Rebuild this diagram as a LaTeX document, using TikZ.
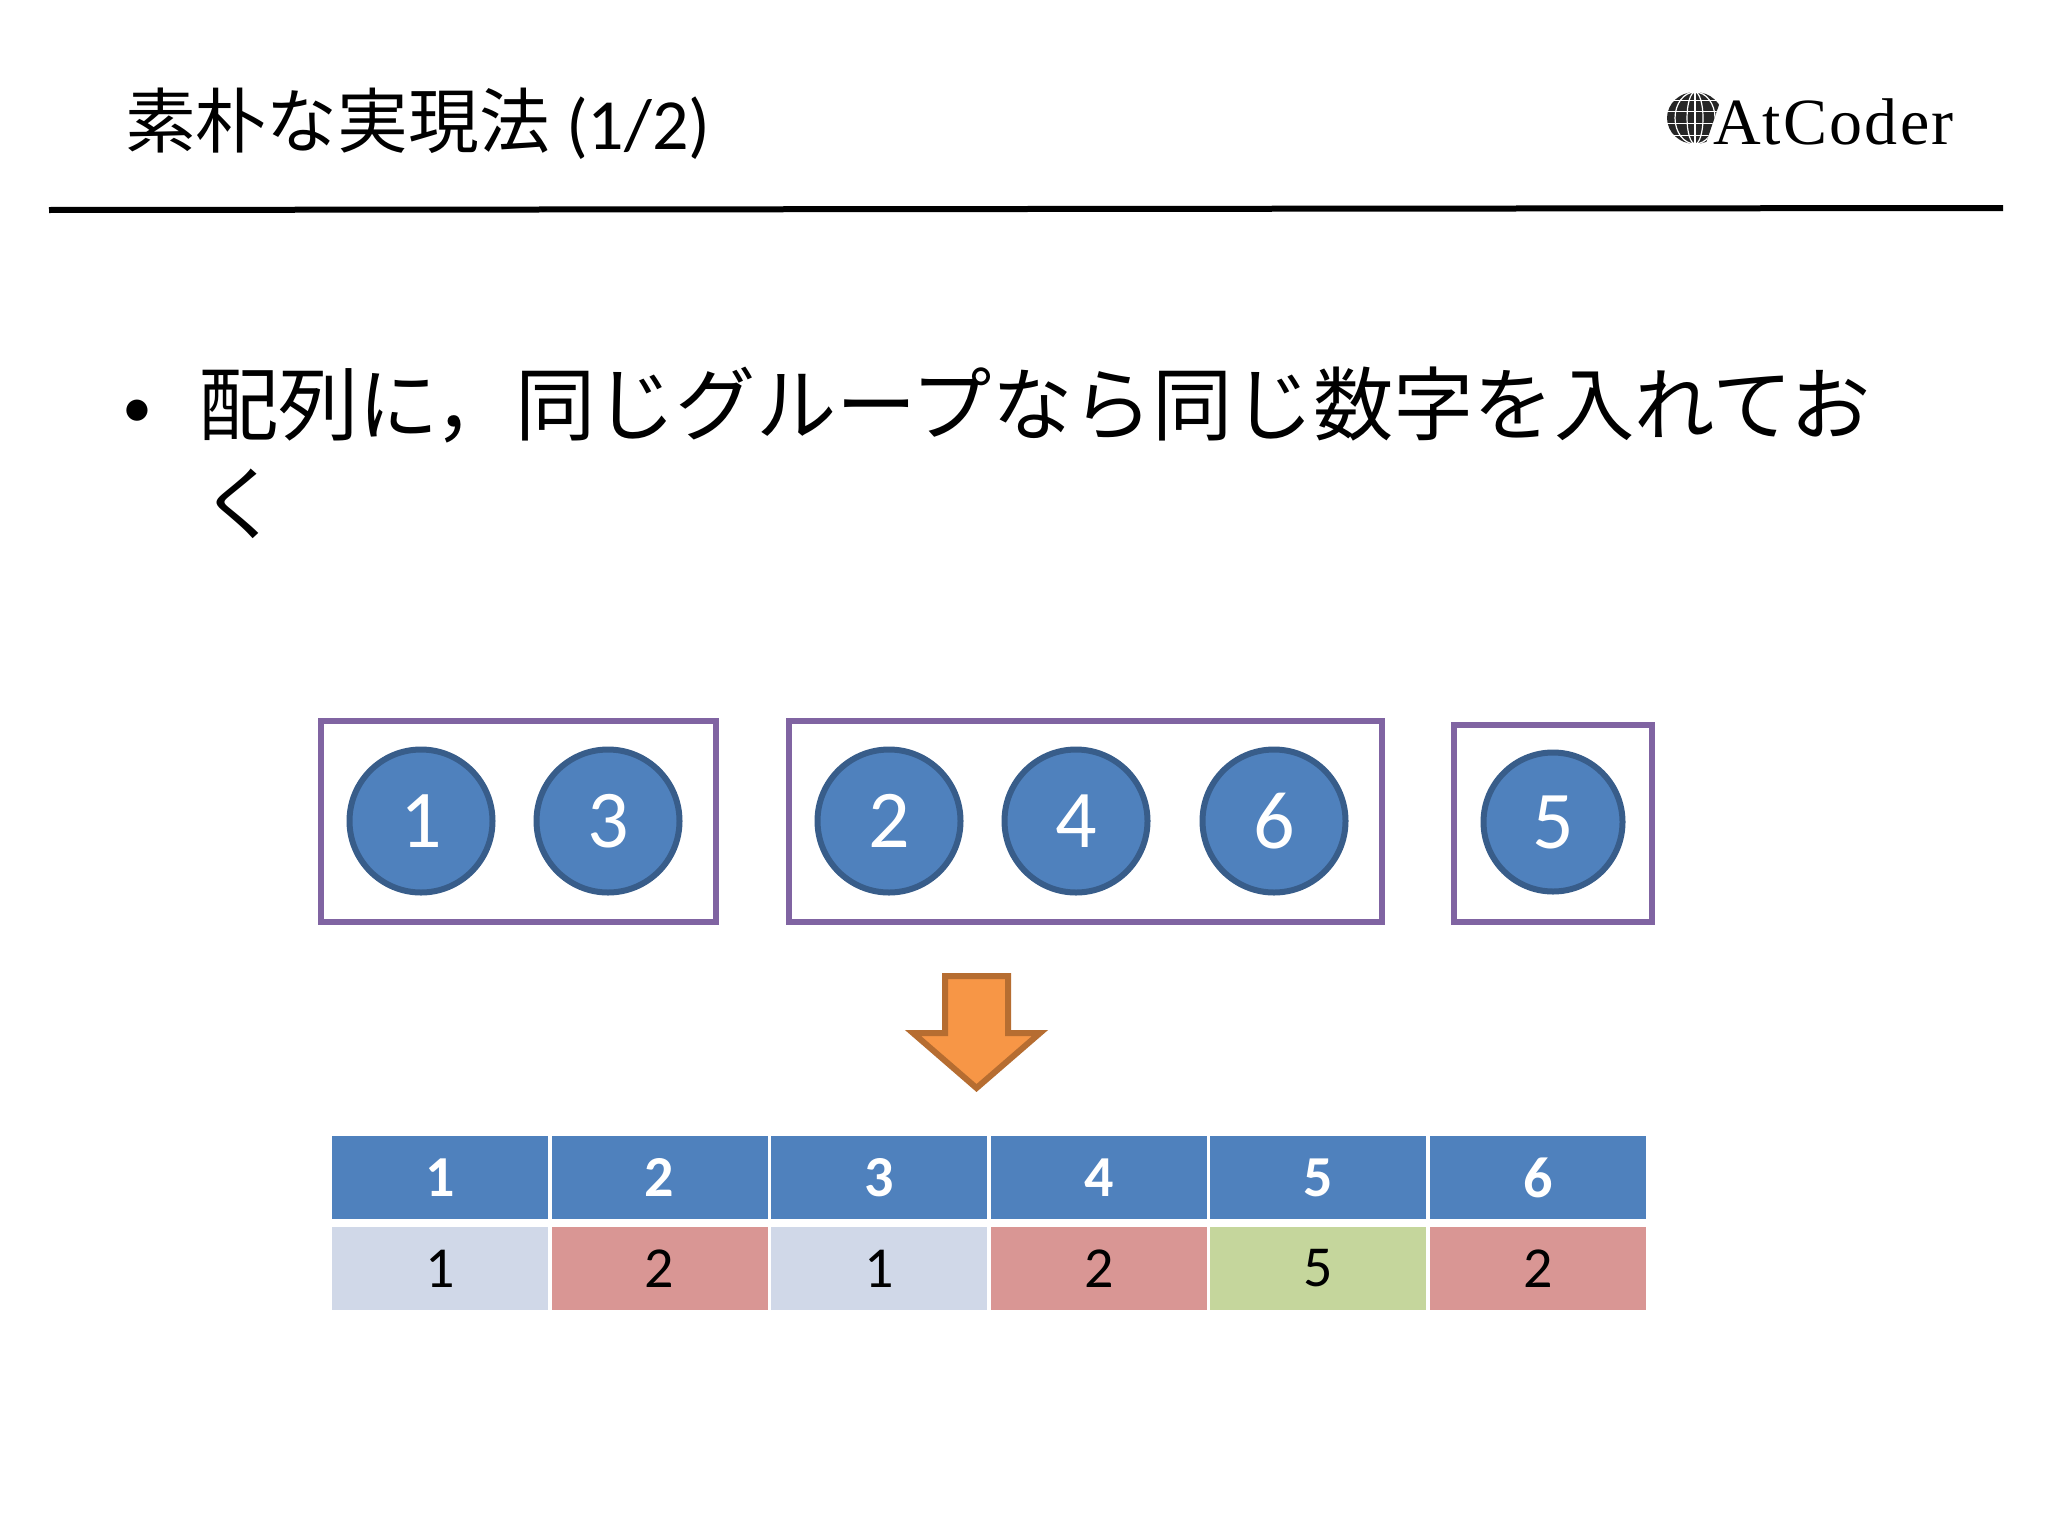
\documentclass[tikz,border=0pt]{standalone}
\usepackage{fontspec}
\setmainfont{Carlito}
\newfontfamily\jp{Noto Sans CJK JP}
\newfontfamily\logofont[LetterSpace=3.4]{Liberation Serif}
\definecolor{hdr}{HTML}{4F81BD}
\definecolor{hdrline}{HTML}{385D8A}
\definecolor{groupline}{HTML}{8064A2}
\definecolor{cellblue}{HTML}{D0D8E8}
\definecolor{cellred}{HTML}{D99694}
\definecolor{cellgreen}{HTML}{C5D69C}
\definecolor{arrowfill}{HTML}{F79646}
\definecolor{arrowline}{HTML}{B66D31}
\tikzset{
  txt/.style={inner sep=0pt,outer sep=0pt,anchor=base west,text=black},
  ball/.style={circle,draw=hdrline,fill=hdr,line width=3pt,minimum size=71.5pt,inner sep=0pt,text=white,font=\fontsize{41}{41}\selectfont},
  groupbox/.style={draw=groupline,line width=3pt,inner sep=0pt,anchor=north west},
  headcell/.style={fill=hdr,minimum width=108pt,minimum height=41.5pt,inner sep=0pt,text=white,font=\fontsize{29}{29}\selectfont\bfseries},
  valcell/.style={minimum width=108pt,minimum height=41.5pt,inner sep=0pt,text=black,font=\fontsize{29}{29}\selectfont},
}
\begin{document}
\begin{tikzpicture}[x=0.5pt,y=-0.5pt]
\path[use as bounding box,fill=white] (0,0) rectangle (2048,1536);
% title
\node[txt,font=\jp\fontsize{35.4}{35.4}\selectfont] (title) at (125,148) {素朴な実現法};
\node[txt,font=\fontsize{36}{36}\selectfont] (titlenum) at (566,149) {(1/2)};
\draw[line width=3pt,black] (49,210) -- (2003,208);
% logo
\begin{scope}
\clip (1666,90) -- (1724,90) -- (1705,146) -- (1666,146) -- cycle;
\fill[black!85] (1695,118) ellipse [x radius=28,y radius=26];
\foreach \rr in {8,20}{\draw[white,line width=0.6pt] (1695,118) ellipse [x radius=\rr,y radius=26];}
\draw[white,line width=0.6pt] (1695,92) -- (1695,144);
\foreach \yy in {101,112,123,135}{\draw[white,line width=0.5pt] (1660,\yy) -- (1730,\yy);}
\end{scope}
\node[txt,font=\logofont\fontsize{33}{33}\selectfont] (logo) at (1713,144) {AtCoder};
% body
\node[txt,font=\fontsize{30}{30}\selectfont] (bullet) at (122,427) {•};
\node[txt,font=\jp\fontsize{40.15}{40.15}\selectfont] (line1) at (198,434) {配列に，同じグループなら同じ数字を入れてお};
\node[txt,font=\jp\fontsize{40.15}{40.15}\selectfont] (line2) at (200,533) {く};
% groups
\node[groupbox,minimum width=197.5pt,minimum height=100.5pt] (g1) at (318,717.5) {};
\node[groupbox,minimum width=296.5pt,minimum height=100.5pt] (g2) at (785.5,717.5) {};
\node[groupbox,minimum width=99pt,minimum height=98.5pt] (g3) at (1451,721.5) {};
\node[ball] (b1) at (421,821) {1};
\node[ball] (b3) at (608,821) {3};
\node[ball] (b2) at (889,821) {2};
\node[ball] (b4) at (1076,821) {4};
\node[ball] (b6) at (1274,821) {6};
\node[ball,minimum size=69.5pt] (b5) at (1553,822) {5};
% arrow
\draw[draw=arrowline,fill=arrowfill,line width=3pt,miter limit=4]
  (945,976) -- (1008,976) -- (1008,1033) -- (1040,1033) -- (976.5,1088) -- (913,1033) -- (945,1033) -- cycle;
% table
\foreach \i/\v/\c in {1/1/cellblue,2/2/cellred,3/1/cellblue,4/2/cellred,5/5/cellgreen,6/2/cellred}{
  \node[headcell] (h\i) at ({440+(\i-1)*219.6},1177.5) {\raisebox{-4.5pt}{\i}};
  \node[valcell,fill=\c] (v\i) at ({440+(\i-1)*219.6},1268.5) {\v};
}
\end{tikzpicture}
\end{document}
